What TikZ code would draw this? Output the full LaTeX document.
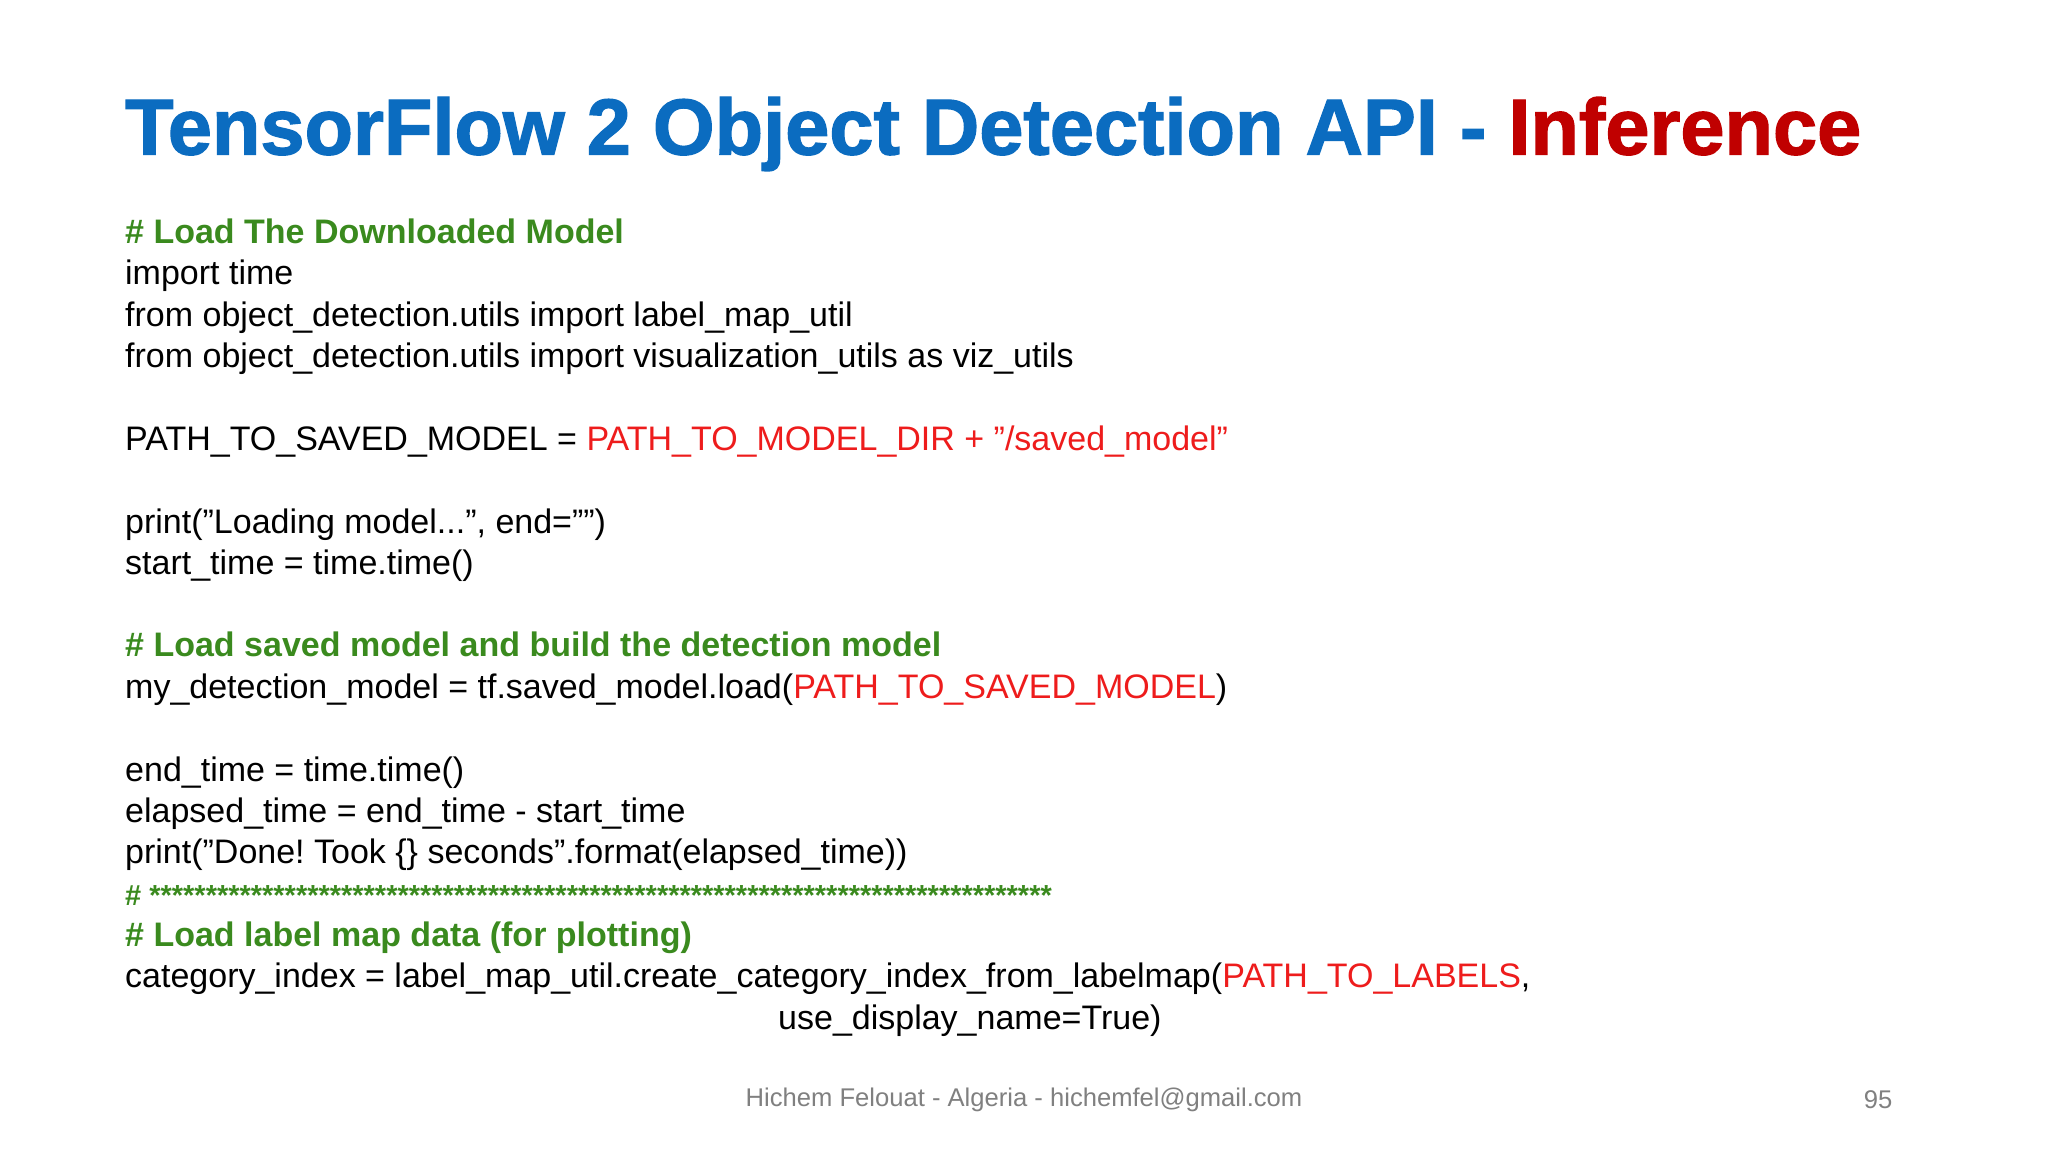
\documentclass[tikz,border=0pt]{standalone}
\usepackage{fontspec}
\setmainfont{Liberation Sans}
\definecolor{tblue}{HTML}{0B6CC0}
\definecolor{tred}{HTML}{C00000}
\definecolor{cgreen}{HTML}{3A8A1E}
\definecolor{cred}{HTML}{EE1C1C}
\definecolor{fgray}{HTML}{808080}
\newcommand\dq{\symbol{34}}
\begin{document}
\frenchspacing
\begin{tikzpicture}[x=1pt,y=1pt,
  code/.style={anchor=west,inner sep=0pt,text height=25pt,text depth=8pt,font=\fontsize{34}{40}\selectfont,text=black},
  cmt/.style={code,font=\fontsize{34}{40}\selectfont\bfseries,text=cgreen}]
\useasboundingbox[fill=white] (0,0) rectangle (2048,1152);
\node[anchor=west,inner sep=0pt] (title) at (125,1018) {\resizebox{1736pt}{!}{\fontsize{74}{80}\selectfont\bfseries\special{pdf:literal 2 Tr 1.2 w}\color{tblue}TensorFlow 2 Object Detection API - \color{tred}Inference\special{pdf:literal 0 Tr}}};
\node[cmt] (l1) at (125,917) {\# Load The Downloaded Model};
\node[code] (l2) at (125,876) {import time};
\node[code] (l3) at (125,834) {from object\_detection.utils import label\_map\_util};
\node[code] (l4) at (125,793) {from object\_detection.utils import visualization\_utils as viz\_utils};
\node[code] (l5) at (125,710) {PATH\_TO\_SAVED\_MODEL = \textcolor{cred}{PATH\_TO\_MODEL\_DIR + \dq/saved\_model\dq}};
\node[code] (l6) at (125,627) {print(\dq Loading model...\dq, end=\dq\dq)};
\node[code] (l7) at (125,586) {start\_time = time.time()};
\node[cmt] (l8) at (125,504) {\# Load saved model and build the detection model};
\node[code] (l9) at (125,462) {my\_detection\_model = tf.saved\_model.load(\textcolor{cred}{PATH\_TO\_SAVED\_MODEL})};
\node[code] (l10) at (125,379) {end\_time = time.time()};
\node[code] (l11) at (125,338) {elapsed\_time = end\_time - start\_time};
\node[code] (l12) at (125,297) {print(\dq Done! Took \{\} seconds\dq.format(elapsed\_time))};
\node[cmt,font=\fontsize{29}{34}\selectfont\bfseries] (l13) at (125,255) {\# ********************************************************************************};
\node[cmt] (l14) at (125,214) {\# Load label map data (for plotting)};
\node[code] (l15) at (125,173) {category\_index = label\_map\_util.create\_category\_index\_from\_labelmap(\textcolor{cred}{PATH\_TO\_LABELS},};
\node[code] (l16) at (778,131) {use\_display\_name=True)};
\node[inner sep=0pt,font=\fontsize{25.6}{30}\selectfont,text=fgray] (foot) at (1024,52) {Hichem Felouat - Algeria - hichemfel@gmail.com};
\node[inner sep=0pt,font=\fontsize{25.6}{30}\selectfont,text=fgray] (pg) at (1878,52) {95};
\end{tikzpicture}
\end{document}
